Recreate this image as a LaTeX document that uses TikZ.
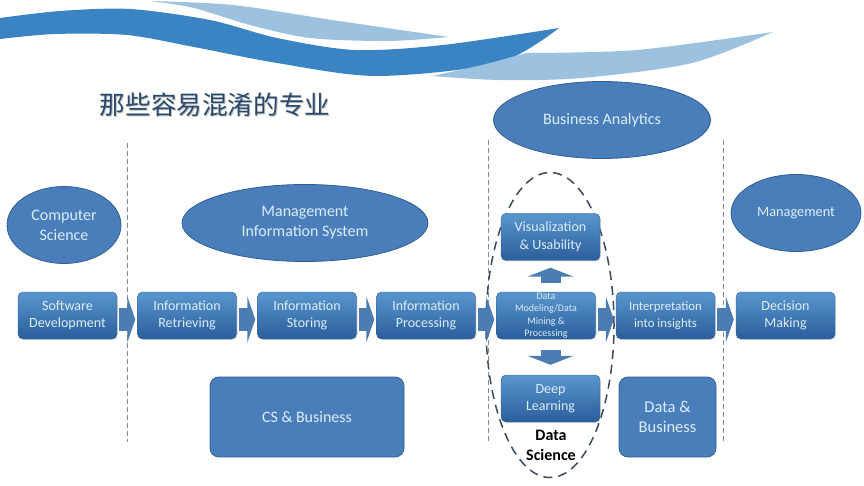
\documentclass[tikz,border=0pt]{standalone}
\usepackage{fontspec}
\setmainfont{Carlito}
\newfontfamily\cjk{Noto Sans CJK SC}
\usetikzlibrary{arrows.meta,shapes.geometric,shadows}
\definecolor{wavedark}{HTML}{3A84C4}
\definecolor{wavelight}{HTML}{9CC2E0}
\definecolor{boxfill}{HTML}{4A7EBB}
\definecolor{boxtop}{HTML}{5A96CE}
\definecolor{boxmid}{HTML}{3B78BA}
\definecolor{boxlow}{HTML}{2A5E9C}
\definecolor{boxedge}{HTML}{2F5F93}
\definecolor{labeltext}{HTML}{DCEEF6}
\definecolor{arrowfill}{HTML}{4C7DB2}
\definecolor{sepline}{HTML}{7A8C9A}
\definecolor{titletext}{HTML}{2A4A6C}
\definecolor{scienceline}{HTML}{3B4A5A}
\begin{document}
\begin{tikzpicture}%
	[x=1pt,
	y=-1pt,
	field/.style={ellipse,inner sep=0pt,draw=boxedge,thick,fill=boxfill,text=labeltext,align=center,font=\fontsize{16}{20}\selectfont},
	stepbox/.style={rectangle,rounded corners=5pt,inner sep=0pt,minimum width=99pt,minimum height=47pt,draw=boxedge,top color=boxtop,middle color=boxmid,bottom color=boxlow,text=labeltext,align=center,font=\fontsize{14}{17.5}\selectfont,drop shadow={shadow xshift=1pt,shadow yshift=-1pt,opacity=.25}},
	areabox/.style={rectangle,rounded corners=9pt,inner sep=0pt,minimum height=80pt,draw=boxedge,thick,fill=boxfill,text=labeltext,align=center,font=\fontsize{16}{20}\selectfont},
	flow/.style={draw=arrowfill,line width=23pt,transform canvas={yshift=-4pt},shorten <=2pt,shorten >=2pt,-{Triangle[length=8pt,width=46pt,fill=arrowfill]}},
	flowup/.style={draw=arrowfill,line width=20pt,-{Triangle[length=9pt,width=46pt,fill=arrowfill]}},
	wave/.style={draw=none},
	divider/.style={draw=sepline,thick,dash pattern=on 5pt off 3pt}]
\useasboundingbox (0,0) rectangle (864,486);
%%
%% Drawing the waves
%%
\fill[wave,wavelight] plot[smooth] coordinates {(150,1) (233,5) (332,20) (449,37)} -- plot[smooth] coordinates {(449,37) (388,41) (310,38) (250,25) (194,8) (150,1)} -- cycle;
\fill[wave,wavedark] plot[smooth] coordinates {(0,18) (60,11) (130,9) (210,20) (277,38) (355,50) (443,45) (559,28)} -- plot[smooth] coordinates {(559,28) (498,63) (377,76) (277,63) (194,47) (127,35) (55,34) (0,39)} -- cycle;
\fill[wave,wavelight] plot[smooth] coordinates {(773,32) (637,50) (526,53)} -- plot[smooth] coordinates {(526,53) (482,65) (432,76)} -- plot[smooth] coordinates {(432,76) (499,80) (582,78) (692,63) (773,32)} -- cycle;
%%
%% Drawing the title
%%
\node[text=black!25,font=\cjk\fontsize{25.6}{25.6}\selectfont] (titleshadow) at (216,106) {那些容易混淆的专业};
\node[text=titletext,font=\cjk\fontsize{25.6}{25.6}\selectfont] (title) at (215,105) {那些容易混淆的专业};
%%
%% Drawing the dividers in the back
%%
\coordinate (divAtop) at (127,143);
\coordinate (divAbot) at (127,442);
\coordinate (divBtop) at (488,140);
\coordinate (divBbot) at (488,442);
\coordinate (divCtop) at (723,140);
\coordinate (divCbot) at (723,442);
\draw[divider] (divAtop) -- (divAbot);
\draw[divider] (divBtop) -- (divBbot);
\draw[divider] (divCtop) -- (divCbot);
\node[ellipse,minimum width=128pt,minimum height=305pt,inner sep=0pt,draw=scienceline,line width=1.5pt,dash pattern=on 9pt off 6pt] (science) at (550,325) {};
%%
%% Drawing the fields
%%
\node[field,minimum width=114pt,minimum height=77pt] (computer) at (64,225) {Computer\\Science};
\node[field,minimum width=246pt,minimum height=77pt] (mis) at (305,223) {Management\\Information System};
\node[field,minimum width=217pt,minimum height=77pt] (analytics) at (602,120) {Business Analytics};
\node[field,minimum width=130pt,minimum height=77pt,font=\fontsize{14.3}{17}\selectfont] (management) at (796,213) {Management};
\node[areabox,minimum width=194pt] (csbus) at (307,417) {CS \& Business};
\node[areabox,minimum width=97pt,font=\fontsize{16.5}{20}\selectfont] (databus) at (667.5,417) {Data \&\\Business};
%%
%% Drawing the steps
%%
\node[stepbox] (software) at (67.5,315.5) {Software\\Development};
\node[stepbox] (retrieving) at (187,315.5) {Information\\Retrieving};
\node[stepbox] (storing) at (307,315.5) {Information\\Storing};
\node[stepbox] (processing) at (426,315.5) {Information\\Processing};
\node[stepbox,font=\fontsize{10}{12.5}\selectfont] (modeling) at (546,315.5) {Data\\Modeling/Data\\Mining \&\\Processing};
\node[stepbox,font=\fontsize{12.8}{17}\selectfont] (insights) at (665.5,315.5) {Interpretation\\into insights};
\node[stepbox] (decision) at (785.5,315.5) {Decision\\Making};
\node[stepbox] (visual) at (550.5,237) {Visualization\\\& Usability};
\node[stepbox] (deep) at (550.5,398.5) {Deep\\Learning};
\node[font=\bfseries\fontsize{16}{20}\selectfont,align=center,text=black] (sciencelabel) at (551,445) {Data\\Science};
%%
%% Drawing the block arrows
%%
\draw[flow] (software) -- (retrieving);
\draw[flow] (retrieving) -- (storing);
\draw[flow] (storing) -- (processing);
\draw[flow] (processing) -- (modeling);
\draw[flow] (modeling) -- (insights);
\draw[flow] (insights) -- (decision);
\draw[flowup,shorten <=9pt,shorten >=7pt] (modeling.north -| visual.south) -- (visual.south);
\draw[flowup,shorten <=11pt,shorten >=10pt] (modeling.south -| deep.north) -- (deep.north);
\end{tikzpicture}
\end{document}
